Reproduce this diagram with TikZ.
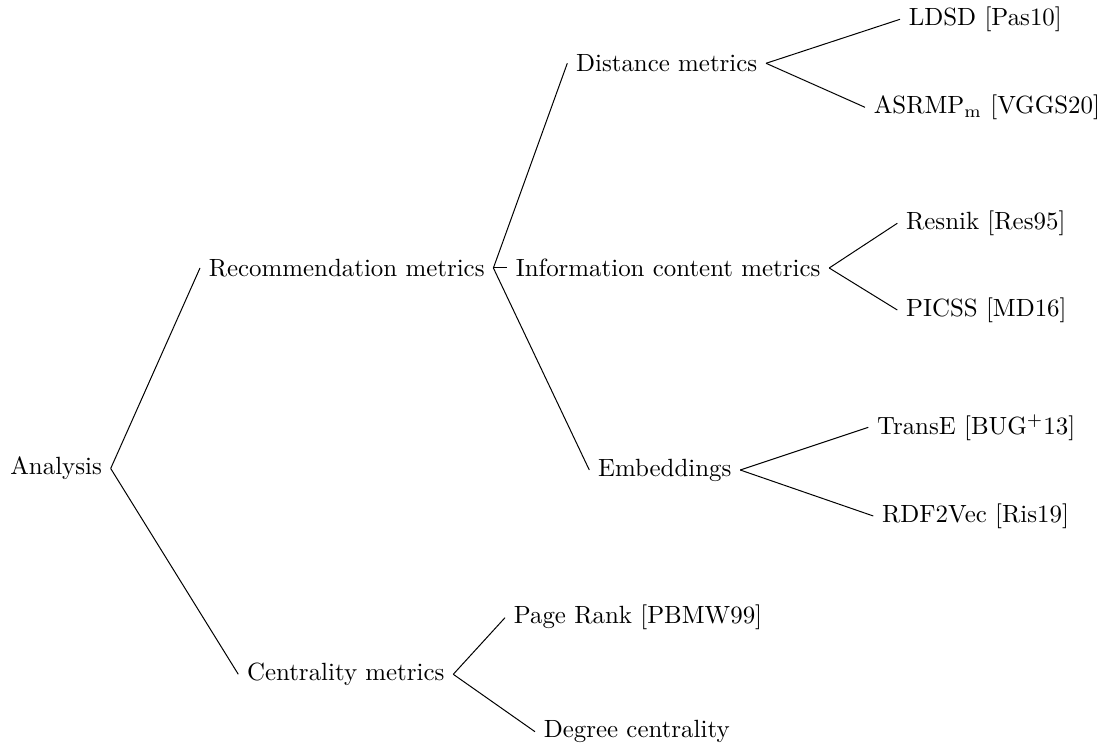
\documentclass[tikz,border=0pt]{standalone}
\begin{document}
\begin{tikzpicture}[x=0.4016pt, y=-0.4016pt,
  item/.style={inner sep=0.3333em, anchor=west},
  branch/.style={draw=black, line width=0.4pt}]
\useasboundingbox (0,0) rectangle (1099,746);

% root
\node[inner sep=0.3333em, anchor=east] (ana) at (110.7,468.5) {Analysis};

% first level
\node[item] (rec)  at (200,268)   {Recommendation metrics};
\node[item] (cent) at (238.3,674.3) {Centrality metrics};

% second level
\node[item] (dist) at (567.3,63.3) {Distance metrics};
\node[item] (info) at (507,268)    {Information content metrics};
\node[item] (emb)  at (589.3,470)  {Embeddings};
\node[item] (pr)   at (505,617.7)  {Page Rank [PBMW99]};
\node[item] (deg)  at (535,731.7)  {Degree centrality};

% leaves
\node[item] (ldsd)  at (900,19.3)   {LDSD [Pas10]};
\node[item] (asrmp) at (865,107.3)  {ASRMP$_\mathrm{m}$ [VGGS20]};
\node[item] (res)   at (897.3,223.3) {Resnik [Res95]};
\node[item] (picss) at (897.3,310)  {PICSS [MD16]};
\node[item] (tre)   at (868.3,427.3) {TransE [BUG$^+$13]};
\node[item] (rdf)   at (873.3,516)  {RDF2Vec [Ris19]};

% branches
\draw[branch] (ana.east) -- (rec.west);
\draw[branch] (ana.east) -- (cent.west);
\draw[branch] (rec.east) -- (dist.west);
\draw[branch] (rec.east) -- (info.west);
\draw[branch] (rec.east) -- (emb.west);
\draw[branch] (cent.east) -- (pr.west);
\draw[branch] (cent.east) -- (deg.west);
\draw[branch] (dist.east) -- (ldsd.west);
\draw[branch] (dist.east) -- (asrmp.west);
\draw[branch] (info.east) -- (res.west);
\draw[branch] (info.east) -- (picss.west);
\draw[branch] (emb.east) -- (tre.west);
\draw[branch] (emb.east) -- (rdf.west);
\end{tikzpicture}
\end{document}
